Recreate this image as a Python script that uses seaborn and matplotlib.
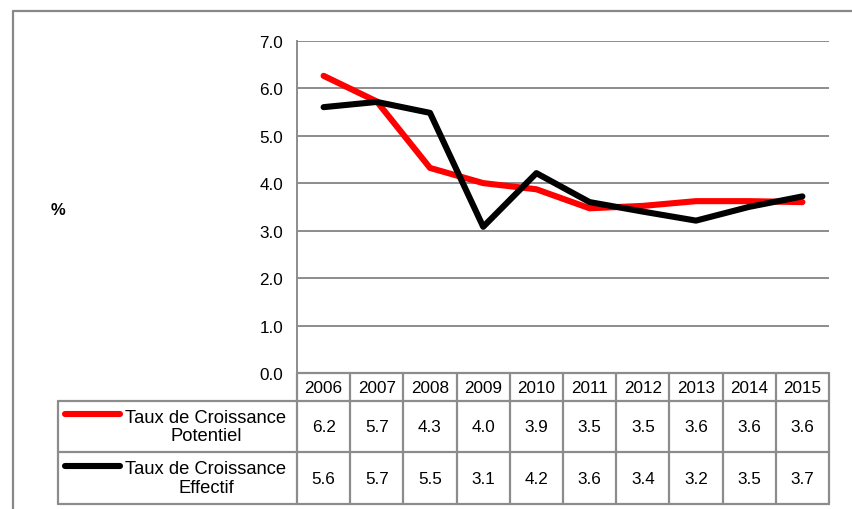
import numpy as np
import pandas as pd
import seaborn as sns
import matplotlib
matplotlib.use("Agg")
import matplotlib.pyplot as plt
from matplotlib.lines import Line2D

# ---------------- data ----------------
years = ['2006', '2007', '2008', '2009', '2010', '2011', '2012', '2013', '2014', '2015']
potentiel = [6.26, 5.72, 4.32, 4.00, 3.87, 3.47, 3.52, 3.62, 3.62, 3.60]
effectif = [5.60, 5.71, 5.48, 3.08, 4.21, 3.60, 3.40, 3.21, 3.50, 3.72]
potentiel_table = ['6.2', '5.7', '4.3', '4.0', '3.9', '3.5', '3.5', '3.6', '3.6', '3.6']
effectif_table = ['5.6', '5.7', '5.5', '3.1', '4.2', '3.6', '3.4', '3.2', '3.5', '3.7']
series_names = ['Taux de Croissance\nPotentiel', 'Taux de Croissance\nEffectif']
series_colors = ['#FF0000', '#000000']
yticks = [0.0, 1.0, 2.0, 3.0, 4.0, 5.0, 6.0, 7.0]
unit_label = '%'

sns.set_theme(style='white')
plt.rcParams['font.family'] = ['Liberation Sans', 'DejaVu Sans']

W, H = 852, 510
fig = plt.figure(figsize=(W / 100, H / 100), dpi=100)
fig.patch.set_facecolor('white')

GRID = '#8c8c8c'

# main axes
ax_l, ax_r, ax_t, ax_b = 297, 829, 41.7, 374
ax = fig.add_axes([ax_l / W, 1 - ax_b / H, (ax_r - ax_l) / W, (ax_b - ax_t) / H])

df = pd.DataFrame({
    'year': years * 2,
    'value': potentiel + effectif,
    'series': [series_names[0]] * len(years) + [series_names[1]] * len(years),
})
sns.lineplot(data=df, x='year', y='value', hue='series', palette=series_colors,
             linewidth=4.4, ax=ax, legend=False, sort=False)
for ln in ax.get_lines():
    ln.set_solid_capstyle('round')
    ln.set_solid_joinstyle('round')

ax.set_xlim(-0.5, len(years) - 0.5)
ax.set_ylim(0, 7)
ax.set_yticks(yticks)
ax.set_yticklabels([f'{v:.1f}' for v in yticks], fontsize=12.3, color='#000000')
ax.set_xticks([])
ax.set_xlabel('')
ax.set_ylabel('')
ax.tick_params(axis='y', length=0, pad=10)
ax.yaxis.grid(True, color=GRID, linewidth=1.4)
ax.set_axisbelow(True)
for s in ['top', 'right', 'bottom']:
    ax.spines[s].set_visible(False)
ax.spines['left'].set_color(GRID)
ax.spines['left'].set_linewidth(1.4)

# data table axes (same x scale as the main axes)
unit = (ax_r - ax_l) / len(years)
tab_left = ax_l - 4.5 * unit
tab_top, tab_bot = 374, 505
tab = fig.add_axes([tab_left / W, 1 - tab_bot / H, (ax_r - tab_left) / W, (tab_bot - tab_top) / H])
tab.set_xlim(-5, len(years) - 0.5)
tab.set_ylim(tab_bot - tab_top, 0)
tab.axis('off')

h_head, h_r1, h_r2 = 27.5, 79, 131
lw_t = 1.6
# horizontal lines
tab.plot([-0.5, len(years) - 0.5], [0, 0], color=GRID, lw=lw_t, clip_on=False)
for yy in [h_head, h_r1, h_r2]:
    tab.plot([-5, len(years) - 0.5], [yy, yy], color=GRID, lw=lw_t, clip_on=False)
# vertical lines
for i in range(len(years) + 1):
    tab.plot([i - 0.5, i - 0.5], [0, h_r2], color=GRID, lw=lw_t, clip_on=False)
tab.plot([-5, -5], [h_head, h_r2], color=GRID, lw=lw_t, clip_on=False)

row_centers = [(h_head + h_r1) / 2, (h_r1 + h_r2) / 2]
for i, y in enumerate(years):
    tab.text(i, h_head / 2 + 0.5, y, ha='center', va='center', fontsize=12.3, color='#000000')
    tab.text(i, row_centers[0], potentiel_table[i], ha='center', va='center', fontsize=12.3, color='#000000')
    tab.text(i, row_centers[1], effectif_table[i], ha='center', va='center', fontsize=12.3, color='#000000')

# legend keys in the table
leg_x0 = (65 - ax_l) / unit - 0.5
leg_x1 = (120 - ax_l) / unit - 0.5
txt_x = (206 - ax_l) / unit - 0.5
for k, (name, col) in enumerate(zip(series_names, series_colors)):
    yc = row_centers[k]
    tab.plot([leg_x0, leg_x1], [yc - 12, yc - 12], color=col, lw=4.4,
             solid_capstyle='round', clip_on=False)
    tab.text(txt_x, yc, name, ha='center', va='center', fontsize=13.2,
             multialignment='center', linespacing=1.1, color='#000000')

# unit label
fig.text(58 / W, 1 - 211 / H, unit_label, ha='center', va='center', fontsize=12,
         fontweight='bold', color='#000000')

# chart-area border (top and left visible)
fig.add_artist(Line2D([13 / W, 1], [1 - 12 / H, 1 - 12 / H], transform=fig.transFigure,
                      color='#888888', lw=1.6))
fig.add_artist(Line2D([13 / W, 13 / W], [0, 1 - 12 / H], transform=fig.transFigure,
                      color='#888888', lw=1.6))

fig.savefig('out.png', dpi=100, facecolor='white')
